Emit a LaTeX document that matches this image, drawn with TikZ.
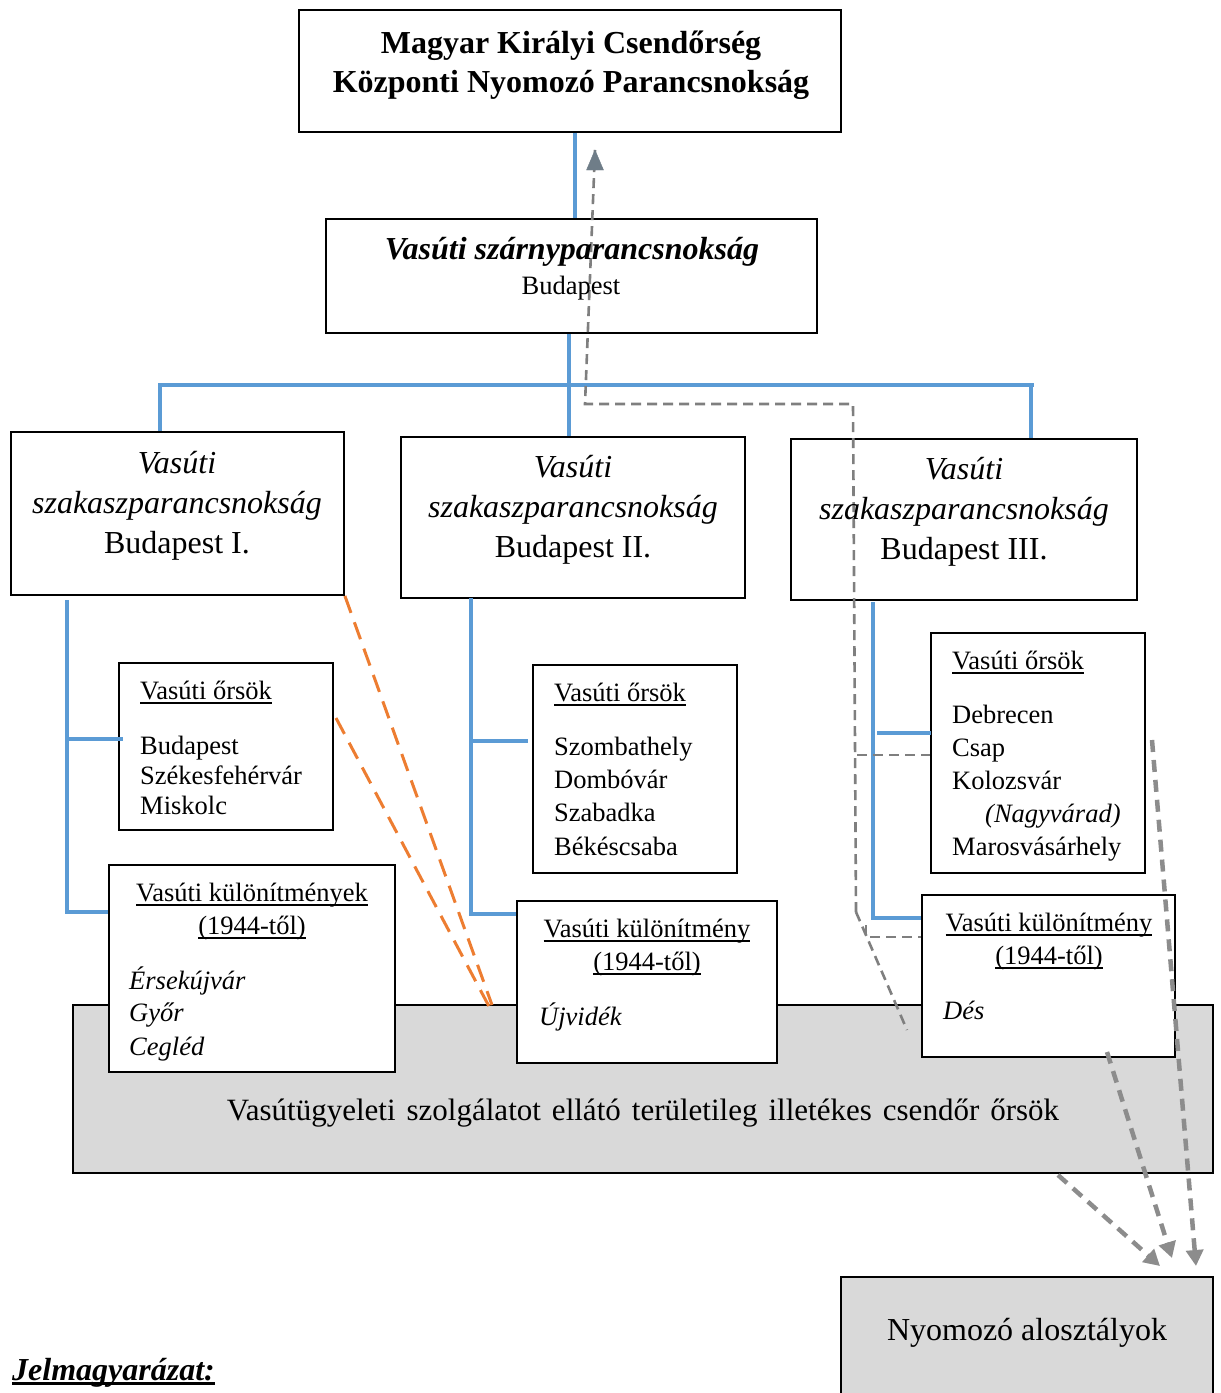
\documentclass[tikz,border=0pt]{standalone}
\usepackage{fontspec}
\setmainfont{Liberation Serif}
\usetikzlibrary{arrows.meta}
\definecolor{cblue}{HTML}{5B9BD5}
\definecolor{cgray}{HTML}{7F7F7F}
\definecolor{cgrayb}{HTML}{6F7D88}
\definecolor{corange}{HTML}{ED7D31}
\definecolor{cfill}{HTML}{D9D9D9}
\newsavebox\myulbox
\newcommand\myul[1]{\sbox\myulbox{#1}\rlap{\rule[-4.5pt]{\wd\myulbox}{1.5pt}}\usebox\myulbox}
\newcommand\myulb[1]{\sbox\myulbox{#1}\rlap{\rule[-5pt]{\wd\myulbox}{2.6pt}}\usebox\myulbox}
\begin{document}
\begin{tikzpicture}[x=1pt,y=-1pt,
  box/.style={draw=black, line width=1.8pt, fill=white, inner sep=0pt, rectangle},
  gbox/.style={box, fill=cfill},
  bl/.style={draw=cblue, line width=4pt},
  gd/.style={draw=cgray, line width=2.6pt, dash pattern=on 10pt off 6pt},
  od/.style={draw=corange, line width=3pt, dash pattern=on 18pt off 10pt},
  ga/.style={draw=cgray!90, line width=4.5pt, dash pattern=on 12pt off 8pt, -{Triangle[length=16pt,width=17pt]}},
  tc/.style={inner sep=0pt, anchor=base},
  tl/.style={inner sep=0pt, anchor=base west},
  fA/.style={font=\fontsize{32}{36}\selectfont},
  fAi/.style={font=\fontsize{32}{36}\selectfont\itshape},
  fB/.style={font=\fontsize{26.5}{30}\selectfont},
  fBi/.style={font=\fontsize{26.5}{30}\selectfont\itshape},
  fT/.style={font=\fontsize{32}{36}\selectfont\bfseries}
]
\useasboundingbox (0,0) rectangle (1221,1393);
\clip (0,0) rectangle (1221,1393);

% boxes
\node[gbox, minimum width=1140pt, minimum height=168pt] (gray) at (643,1089) {};
\node[gbox, minimum width=372pt, minimum height=143pt] (nyom) at (1027,1348.5) {};
\node[box, minimum width=542pt, minimum height=122pt] (top) at (570,71) {};
\node[box, minimum width=491pt, minimum height=114pt] (wing) at (571.5,276) {};
\node[box, minimum width=333pt, minimum height=163pt] (b1) at (177.5,513.5) {};
\node[box, minimum width=344pt, minimum height=161pt] (b2) at (573,517.5) {};
\node[box, minimum width=346pt, minimum height=161pt] (b3) at (964,519.5) {};
\node[box, minimum width=214pt, minimum height=167pt] (o1) at (226,746.5) {};
\node[box, minimum width=286pt, minimum height=207pt] (k1) at (252,968.5) {};
\node[box, minimum width=204pt, minimum height=208pt] (o2) at (635,769) {};
\node[box, minimum width=260pt, minimum height=162pt] (k2) at (647,982) {};
\node[box, minimum width=214pt, minimum height=240pt] (o3) at (1038,753) {};
\node[box, minimum width=253pt, minimum height=162pt] (k3) at (1048.5,976) {};

% texts of the lower right detachment box
\node[tc, fB] (k3a) at (1049,931) {\myul{Vasúti különítmény}};
\node[tc, fB] (k3b) at (1049,964) {\myul{(1944-től)}};
\node[tl, fBi] (k3c) at (943,1019) {Dés};

% blue tree
\coordinate (busL) at (158,385);
\coordinate (busR) at (1034,385);
\draw[bl] (575,0 |- top.south) -- (575,0 |- wing.north);
\draw[bl] (569,0 |- wing.south) -- (569,0 |- b2.north);
\draw[bl] (busL) -- (busR);
\draw[bl] (160,385) -- (160,0 |- b1.north);
\draw[bl] (1031,385) -- (1031,0 |- b3.north);
\coordinate (t1) at (67,600);
\draw[bl] (t1) -- (67,912) -- (67,912 -| k1.west);
\draw[bl] (67,739) -- (123,739);
\coordinate (t2) at (471,598);
\draw[bl] (t2) -- (471,914) -- (471,914 -| k2.west);
\draw[bl] (471,741) -- (528,741);
\coordinate (t3) at (873,602);
\draw[bl] (t3) -- (873,918) -- (873,918 -| k3.west);
\draw[bl] (877,733) -- (931,733);

% gray dashed (reporting line)
\coordinate (gtip) at (595,150);
\coordinate (gc1) at (585,404);
\coordinate (gc2) at (853,404);
\coordinate (gc3) at (856,912);
\draw[gd] (gc3) -- (gc2) -- (gc1) -- (gtip);
\draw[draw=cgrayb, fill=cgrayb] (595,150) -- (603.5,170) -- (586.5,170) -- cycle;
\draw[gd] (857,755) -- (857,755 -| o3.west);
\draw[gd] (gc3) -- (907,1030);
\draw[gd] (866,925) -- (866,937) -- (866,937 -| k3.west);

% orange dashed
\coordinate (oe1) at (492,1005);
\coordinate (oe2) at (492,1012);
\draw[od] (b1.south east) -- (oe1);
\draw[od] (336,718) -- (oe2);

% gray arrows to Nyomozó alosztályok
\draw[ga] (1058,1175) -- (1160,1266);
\draw[ga] (1107,1052) -- (1172,1258);
\draw[ga] (1152,740) -- (1196,1266);

% texts
\node[tc, fT] at (571,53) {Magyar Királyi Csendőrség};
\node[tc, fT] at (571,92) {Központi Nyomozó Parancsnokság};
\node[tc, font=\fontsize{32}{36}\selectfont\bfseries\itshape] at (572,259) {Vasúti szárnyparancsnokság};
\node[tc, font=\fontsize{26.5}{30}\selectfont] at (571,294) {Budapest};

\node[tc, fAi] at (177,473) {Vasúti};
\node[tc, fAi] at (177,513) {szakaszparancsnokság};
\node[tc, fA] at (177,553) {Budapest I.};
\node[tc, fAi] at (573,477) {Vasúti};
\node[tc, fAi] at (573,517) {szakaszparancsnokság};
\node[tc, fA] at (573,557) {Budapest II.};
\node[tc, fAi] at (964,479) {Vasúti};
\node[tc, fAi] at (964,519) {szakaszparancsnokság};
\node[tc, fA] at (964,559) {Budapest III.};

\node[tl, fB] at (140,699) {\myul{Vasúti őrsök}};
\node[tl, fB] at (140,754) {Budapest};
\node[tl, fB] at (140,784) {Székesfehérvár};
\node[tl, fB] at (140,814) {Miskolc};

\node[tc, fB] at (252,901) {\myul{Vasúti különítmények}};
\node[tc, fB] at (252,934) {\myul{(1944-től)}};
\node[tl, fBi] at (129,989) {Érsekújvár};
\node[tl, fBi] at (129,1021) {Győr};
\node[tl, fBi] at (129,1055) {Cegléd};

\node[tl, fB] at (554,701) {\myul{Vasúti őrsök}};
\node[tl, fB] at (554,755) {Szombathely};
\node[tl, fB] at (554,788) {Dombóvár};
\node[tl, fB] at (554,821) {Szabadka};
\node[tl, fB] at (554,855) {Békéscsaba};

\node[tc, fB] at (647,937) {\myul{Vasúti különítmény}};
\node[tc, fB] at (647,970) {\myul{(1944-től)}};
\node[tl, fBi] at (539,1025) {Újvidék};

\node[tl, fB] at (952,669) {\myul{Vasúti őrsök}};
\node[tl, fB] at (952,723) {Debrecen};
\node[tl, fB] at (952,756) {Csap};
\node[tl, fB] at (952,789) {Kolozsvár};
\node[tl, fBi] at (985,822) {(Nagyvárad)};
\node[tl, fB] at (952,855) {Marosvásárhely};

\node[tc, font=\fontsize{31}{36}\selectfont] at (643,1120) {\spaceskip=11pt plus 2pt\relax Vasútügyeleti szolgálatot ellátó területileg illetékes csendőr őrsök};
\node[tc, fA] at (1027,1340) {Nyomozó alosztályok};
\node[tl, font=\fontsize{32}{36}\selectfont\bfseries\itshape] at (12,1380) {\myulb{Jelmagyarázat:}};
\end{tikzpicture}
\end{document}
